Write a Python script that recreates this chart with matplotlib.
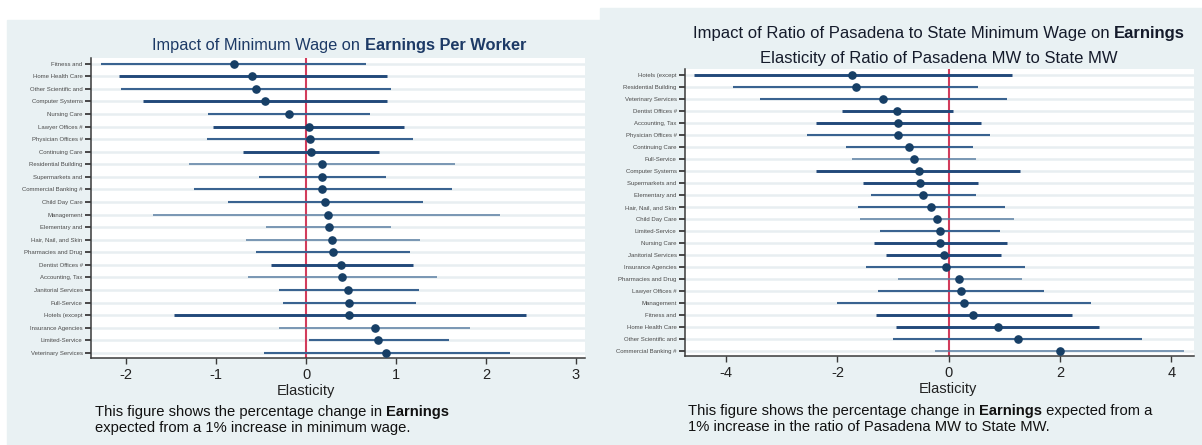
import matplotlib
matplotlib.use("Agg")
import matplotlib.pyplot as plt
from matplotlib.patches import Rectangle

plt.rcParams['font.family'] = ['Liberation Sans', 'DejaVu Sans']

# ---------------- data: minimum wage elasticity of earnings per worker ----------------
left_industries = [
    "Fitness and", "Home Health Care", "Other Scientific and", "Computer Systems",
    "Nursing Care", "Lawyer Offices #", "Physician Offices #", "Continuing Care",
    "Residential Building", "Supermarkets and", "Commercial Banking #", "Child Day Care",
    "Management", "Elementary and", "Hair, Nail, and Skin", "Pharmacies and Drug",
    "Dentist Offices #", "Accounting, Tax", "Janitorial Services", "Full-Service",
    "Hotels (except", "Insurance Agencies", "Limited-Service", "Veterinary Services",
]
left_est = [-0.80, -0.60, -0.56, -0.46, -0.19, 0.03, 0.04, 0.06, 0.18, 0.18, 0.18, 0.21,
            0.24, 0.26, 0.29, 0.30, 0.39, 0.40, 0.47, 0.48, 0.48, 0.77, 0.80, 0.89]
left_lo = [-2.28, -2.08, -2.06, -1.81, -1.09, -1.03, -1.10, -0.70, -1.30, -0.52, -1.25, -0.87,
           -1.70, -0.44, -0.67, -0.56, -0.39, -0.65, -0.30, -0.26, -1.47, -0.30, 0.03, -0.47]
left_hi = [0.67, 0.90, 0.94, 0.90, 0.71, 1.09, 1.19, 0.81, 1.65, 0.89, 1.62, 1.30,
           2.16, 0.94, 1.27, 1.16, 1.19, 1.45, 1.25, 1.22, 2.44, 1.82, 1.59, 2.27]
left_xticks = [-2, -1, 0, 1, 2, 3]

# ---------------- data: elasticity of ratio of Pasadena MW to state MW ----------------
right_industries = [
    "Hotels (except", "Residential Building", "Veterinary Services", "Dentist Offices #",
    "Accounting, Tax", "Physician Offices #", "Continuing Care", "Full-Service",
    "Computer Systems", "Supermarkets and", "Elementary and", "Hair, Nail, and Skin",
    "Child Day Care", "Limited-Service", "Nursing Care", "Janitorial Services",
    "Insurance Agencies", "Pharmacies and Drug", "Lawyer Offices #", "Management",
    "Fitness and", "Home Health Care", "Other Scientific and", "Commercial Banking #",
]
right_est = [-1.73, -1.67, -1.18, -0.93, -0.92, -0.92, -0.71, -0.62, -0.54, -0.51, -0.46, -0.32,
             -0.21, -0.15, -0.15, -0.09, -0.05, 0.19, 0.23, 0.28, 0.44, 0.88, 1.24, 2.00]
right_lo = [-4.57, -3.87, -3.39, -1.92, -2.39, -2.55, -1.85, -1.73, -2.39, -1.54, -1.40, -1.63,
            -1.59, -1.23, -1.34, -1.12, -1.49, -0.92, -1.27, -2.00, -1.31, -0.95, -1.00, -0.24]
right_hi = [1.14, 0.52, 1.04, 0.08, 0.58, 0.74, 0.43, 0.49, 1.29, 0.53, 0.50, 1.02,
            1.17, 0.92, 1.05, 0.94, 1.38, 1.32, 1.72, 2.56, 2.22, 2.70, 3.48, 4.23]
right_xticks = [-4, -2, 0, 2, 4]

# line emphasis level per row (0 light, 1 medium, 2 heavy)
left_emph = [1, 2, 1, 2, 1, 2, 1, 2, 0, 1, 1, 1, 0, 0, 0, 1, 2, 0, 1, 1, 2, 0, 1, 1]
right_emph = [2, 1, 1, 2, 2, 1, 1, 0, 2, 2, 1, 1, 0, 1, 2, 2, 1, 0, 1, 1, 2, 2, 1, 0]

W, H = 1202, 445
BG = "#e9f1f3"
DOT = "#173f66"
LINE_STYLE = {0: ("#5a7ea2", 1.1), 1: ("#3a6390", 1.5), 2: ("#22497a", 2.1)}
ZERO = "#d23c5c"

fig = plt.figure(figsize=(W / 100, H / 100), dpi=100)
fig.patch.set_facecolor("white")


def px_rect(x0, y0, x1, y1):
    """Axes rectangle from pixel edges (y measured from top)."""
    return [x0 / W, 1 - y1 / H, (x1 - x0) / W, (y1 - y0) / H]


# panel backgrounds
fig.patches.append(Rectangle((7 / W, 0), (600 - 7) / W, 1 - 20 / H,
                             transform=fig.transFigure, color=BG, zorder=-5))
fig.patches.append(Rectangle((600 / W, 0), (W - 600) / W, 1 - 8 / H,
                             transform=fig.transFigure, color=BG, zorder=-5))


def draw_panel(ax, names, est, lo, hi, emph, xlim, ylim, xticks):
    n = len(names)
    ys = list(range(n))
    ax.set_zorder(2)
    ax.set_facecolor("white")
    for y in ys:
        ax.axhline(y, color="#e8eef1", lw=1.8, zorder=1)
    ax.axvline(0, color=ZERO, lw=1.5, zorder=2)
    for y, a, b, e in zip(ys, lo, hi, emph):
        c, lw = LINE_STYLE[e]
        ax.plot([a, b], [y, y], color=c, lw=lw, solid_capstyle="butt", zorder=3)
    ax.plot(est, ys, "o", color=DOT, ms=5.2, zorder=4)
    ax.set_xlim(*xlim)
    ax.set_ylim(*ylim)
    ax.set_yticks(ys)
    ax.set_yticklabels(names, fontsize=4.3, color="#4a4a4a")
    ax.set_xticks(xticks)
    ax.set_xticklabels([str(t) for t in xticks], fontsize=10.5, color="#222222")
    for s in ("top", "right"):
        ax.spines[s].set_visible(False)
    for s in ("left", "bottom"):
        ax.spines[s].set_color("#3a3a3a")
        ax.spines[s].set_linewidth(1.1)
    ax.tick_params(axis="y", length=4, width=1.3, color="#3a3a3a", pad=2)
    ax.tick_params(axis="x", length=4, width=1.0, color="#3a3a3a", pad=3)


# left panel
axL = fig.add_axes(px_rect(91, 58, 585, 358))
draw_panel(axL, left_industries, left_est, left_lo, left_hi, left_emph,
           (-2.39, 3.1), (23.4, -0.45), left_xticks)

# right panel
axR = fig.add_axes(px_rect(685, 69, 1194, 356))
draw_panel(axR, right_industries, right_est, right_lo, right_hi, right_emph,
           (-4.74, 4.41), (23.44, -0.5), right_xticks)

renderer = fig.canvas.get_renderer()


def rich_text(pieces, x, y, size, color, align="left"):
    """Draw text runs with mixed weights on one baseline; x, y in pixels from top-left."""
    arts = []
    for s, wt in pieces:
        t = fig.text(0, 1 - y / H, s, fontsize=size, fontweight=wt, color=color,
                     va="baseline", ha="left")
        arts.append(t)
    widths = [a.get_window_extent(renderer).width for a in arts]
    total = sum(widths)
    start = x - total / 2 if align == "center" else x
    cur = start
    for a, w in zip(arts, widths):
        a.set_x(cur / W)
        cur += w


# titles
rich_text([("Impact of Minimum Wage on ", "normal"), ("Earnings Per Worker", "bold")],
          339, 50, 11.8, "#1d3a66", align="center")
rich_text([("Impact of Ratio of Pasadena to State Minimum Wage on ", "normal"),
           ("Earnings", "bold")], 939, 38, 12.0, "#151b2b", align="center")
rich_text([("Elasticity of Ratio of Pasadena MW to State MW", "normal")],
          939, 63, 12.0, "#151b2b", align="center")

# axis titles
fig.text(306 / W, 1 - 395 / H, "Elasticity", fontsize=10.5, color="#222222",
         ha="center", va="baseline")
fig.text(948 / W, 1 - 393 / H, "Elasticity", fontsize=10.5, color="#222222",
         ha="center", va="baseline")

# notes
note_c = "#111111"
rich_text([("This figure shows the percentage change in ", "normal"), ("Earnings", "bold")],
          95, 416, 10.6, note_c)
rich_text([("expected from a 1% increase in minimum wage.", "normal")], 95, 432, 10.6, note_c)
rich_text([("This figure shows the percentage change in ", "normal"), ("Earnings", "bold"),
           (" expected from a", "normal")], 688, 415, 10.6, note_c)
rich_text([("1% increase in the ratio of Pasadena MW to State MW.", "normal")],
          688, 431, 10.6, note_c)

fig.savefig("out.png", dpi=100, facecolor=fig.get_facecolor())
